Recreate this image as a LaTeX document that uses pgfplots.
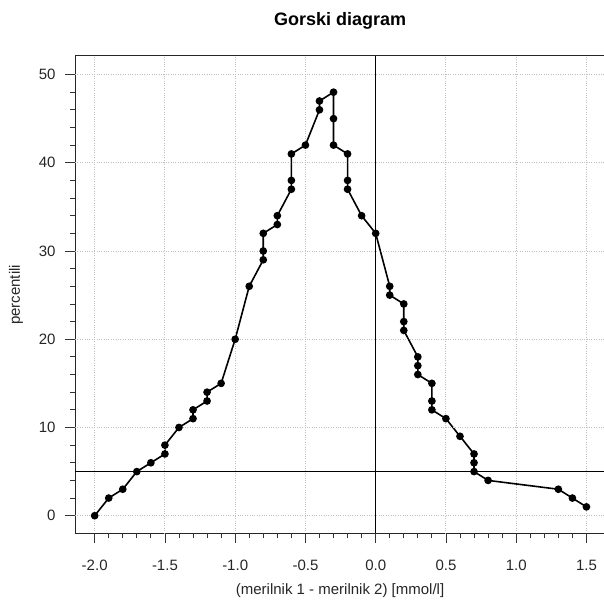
\documentclass[border=0pt]{standalone}
\usepackage{fontspec}
\setmainfont{Liberation Sans}
\usepackage{pgfplots}
\pgfplotsset{compat=1.18}
\begin{document}
\begin{tikzpicture}
\useasboundingbox (-75bp,-75bp) rectangle (529bp,533bp);
\begin{axis}[
  at={(0,0)}, anchor=south west,
  scale only axis, width=529bp, height=477bp,
  xmin=-2.14, xmax=1.625, ymin=-1.96, ymax=52.1,
  xtick={-2,-1.5,-1,-0.5,0,0.5,1,1.5}, ytick={0,10,20,30,40,50},
  minor x tick num=4, minor y tick num=4,
  tick pos=left, tick align=outside,
  major tick length=10bp, minor tick length=5bp,
  every tick/.style={black!80, line width=0.8bp},
  grid=major, grid style={gray!50, dotted, line width=0.9bp},
  % reference lines at x=0 and y=5, drawn over the grid
  extra x ticks={0}, extra x tick labels={},
  extra y ticks={5}, extra y tick labels={},
  extra tick style={major tick length=0pt,
    major grid style={black, solid, line width=0.9bp}},
  axis line style={draw=none},
  axis on top,
  /pgf/number format/assume math mode=true,
  ticklabel style={font=\fontsize{15bp}{18bp}\selectfont, text=black!85},
  xticklabel style={yshift=-14bp, /pgf/number format/fixed, /pgf/number format/fixed zerofill,
    /pgf/number format/precision=1},
  yticklabel style={xshift=-6bp},
  title={Gorski diagram},
  title style={at={(0.501,1.061)}, anchor=center, font=\fontsize{18bp}{22bp}\selectfont\bfseries},
  xlabel={(merilnik 1 - merilnik 2) [mmol/l]},
  xlabel style={at={(0.501,-0.1215)}, anchor=center, font=\fontsize{15bp}{18bp}\selectfont, text=black!85},
  ylabel={percentili},
  ylabel style={at={(-0.1115,0.499)}, anchor=center, rotate=0, font=\fontsize{15bp}{18bp}\selectfont, text=black!85},
]
  % Gorski curve
  \addplot[black, line width=1.6bp, mark=*, mark size=3bp, mark options={fill=black}] coordinates {
    (-2.0,0) (-1.9,2) (-1.8,3) (-1.7,5) (-1.6,6) (-1.5,7) (-1.5,8) (-1.4,10)
    (-1.3,11) (-1.3,12) (-1.2,13) (-1.2,14) (-1.1,15) (-1.0,20) (-0.9,26)
    (-0.8,29) (-0.8,30) (-0.8,32) (-0.7,33) (-0.7,34) (-0.6,37) (-0.6,38)
    (-0.6,41) (-0.5,42) (-0.4,46) (-0.4,47) (-0.3,48) (-0.3,45) (-0.3,42)
    (-0.2,41) (-0.2,38) (-0.2,37) (-0.1,34) (0.0,32) (0.1,26) (0.1,25)
    (0.2,24) (0.2,22) (0.2,21) (0.3,18) (0.3,17) (0.3,16) (0.4,15) (0.4,13)
    (0.4,12) (0.5,11) (0.6,9) (0.7,7) (0.7,6) (0.7,5) (0.8,4) (1.3,3)
    (1.4,2) (1.5,1)
  };
  % box without right side
  \draw[black!85, line width=1bp] (rel axis cs:1,1) -- (rel axis cs:0,1) -- (rel axis cs:0,0) -- (rel axis cs:1,0);
\end{axis}
\end{tikzpicture}
\end{document}
